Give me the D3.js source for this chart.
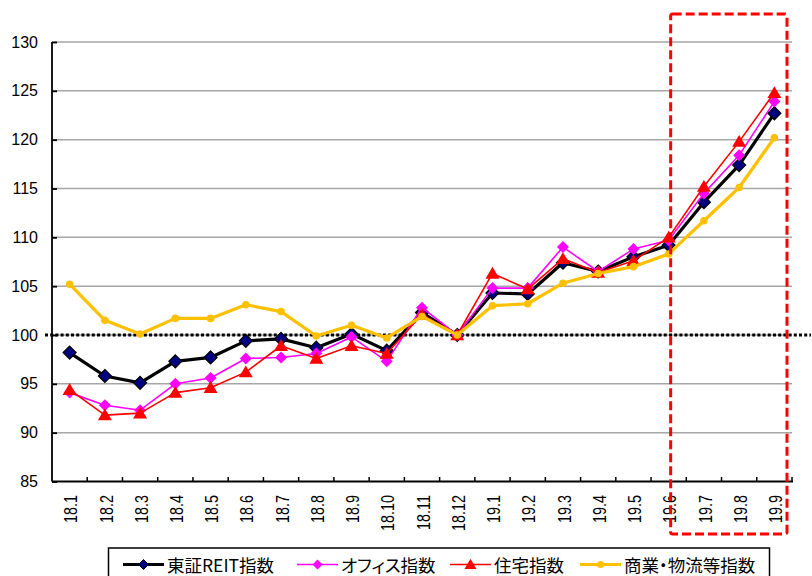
<!DOCTYPE html>
<html>
<head>
<meta charset="utf-8">
<script src="https://cdn.jsdelivr.net/npm/d3@7/dist/d3.min.js"></script>
<style>
  html, body { margin: 0; padding: 0; background: #fff; }
  svg { display: block; }
  .num { font-family: "Liberation Sans", Arial, sans-serif; fill: #000; }
  .leg { font-family: "Noto Sans CJK JP", sans-serif; font-feature-settings: "palt"; fill: #000; }
</style>
</head>
<body>
<svg id="chart" width="812" height="576"></svg>
<script>
// Month labels (year.month)
const months = ["18.1","18.2","18.3","18.4","18.5","18.6","18.7","18.8","18.9","18.10","18.11","18.12",
                "19.1","19.2","19.3","19.4","19.5","19.6","19.7","19.8","19.9"];

// Index values, 2018/12 = 100
const reitIndex   = [98.2, 95.8, 95.1, 97.3, 97.7, 99.4, 99.6, 98.7, 100.1, 98.4, 102.3, 100.0,
                     104.3, 104.2, 107.4, 106.5, 108.0, 109.2, 113.6, 117.4, 122.7];
const officeIndex = [94.1, 92.8, 92.3, 95.0, 95.6, 97.6, 97.7, 98.1, 99.8, 97.3, 102.8, 100.0,
                     104.8, 104.8, 109.0, 106.5, 108.8, 109.7, 114.5, 118.4, 123.9];
const housingIndex = [94.4, 91.8, 92.0, 94.1, 94.6, 96.2, 98.9, 97.6, 98.9, 98.1, 102.1, 100.0,
                     106.3, 104.7, 107.8, 106.4, 107.6, 110.0, 115.2, 119.8, 124.8];
const retailIndex = [105.2, 101.5, 100.1, 101.7, 101.7, 103.1, 102.4, 99.9, 101.0, 99.7, 101.9, 100.0,
                     103.0, 103.2, 105.3, 106.3, 107.0, 108.3, 111.7, 115.1, 120.2];

const yTicks = [85, 90, 95, 100, 105, 110, 115, 120, 125, 130];
const baseLine = 100;
const highlightFrom = "19.6";

const seriesNames = ["東証REIT指数", "オフィス指数", "住宅指数", "商業・物流等指数"];

const series = [
  { name: seriesNames[0], values: reitIndex,    line: "#000000", width: 3.2, marker: "diamond",  r: 6.5, fill: "#000080", stroke: "#000000" },
  { name: seriesNames[1], values: officeIndex,  line: "#ff00ff", width: 1.6, marker: "diamond",  r: 6,   fill: "#ff00ff", stroke: "none" },
  { name: seriesNames[2], values: housingIndex, line: "#ff0000", width: 1.6, marker: "triangle", r: 7,   fill: "#ff0000", stroke: "none" },
  { name: seriesNames[3], values: retailIndex,  line: "#ffc000", width: 3.2, marker: "circle",   r: 3.8, fill: "#ffc000", stroke: "none" }
];

const svg = d3.select("#chart");

const plot = { left: 52, right: 792, top: 42, bottom: 481.5 };

const x = d3.scaleBand().domain(months).range([plot.left, plot.right]).paddingInner(0).paddingOuter(0);
const cx = d => x(d) + x.bandwidth() / 2;
const y = d3.scaleLinear().domain([85, 130]).range([plot.bottom, plot.top]);

// Horizontal gridlines
svg.append("g").selectAll("line")
  .data(yTicks.filter(t => t > 85))
  .join("line")
  .attr("x1", plot.left).attr("x2", plot.right)
  .attr("y1", d => y(d)).attr("y2", d => y(d))
  .attr("stroke", "#a6a6a6").attr("stroke-width", 1.5);

// Y axis (ticks pointing inward)
const yAxis = svg.append("g").attr("transform", `translate(${plot.left},0)`)
  .call(d3.axisRight(y).tickValues(yTicks).tickSize(5).tickFormat(""));
yAxis.select(".domain").attr("stroke", "#000").attr("stroke-width", 1.8).attr("d", `M0,${plot.top}V${plot.bottom}`);
yAxis.selectAll(".tick line").attr("stroke", "#000").attr("stroke-width", 1.8);

svg.append("g").selectAll("text")
  .data(yTicks)
  .join("text")
  .attr("class", "num")
  .attr("x", 38).attr("y", d => y(d))
  .attr("text-anchor", "end").attr("dominant-baseline", "central")
  .attr("font-size", 16)
  .text(d => d);

// X axis with tick marks at category boundaries
const boundaries = months.map(m => x(m)).concat([plot.right]);
svg.append("line")
  .attr("x1", plot.left).attr("x2", plot.right + 1)
  .attr("y1", plot.bottom).attr("y2", plot.bottom)
  .attr("stroke", "#000").attr("stroke-width", 1.8);
svg.append("g").selectAll("line")
  .data(boundaries.slice(1))
  .join("line")
  .attr("x1", d => d).attr("x2", d => d)
  .attr("y1", plot.bottom).attr("y2", plot.bottom - 4.5)
  .attr("stroke", "#000").attr("stroke-width", 1.5);

svg.append("g").selectAll("text")
  .data(months)
  .join("text")
  .attr("class", "num")
  .attr("font-size", 18)
  .attr("text-anchor", "end")
  .attr("dominant-baseline", "central")
  .attr("transform", d => `translate(${cx(d) + 1},${plot.bottom + 13.5}) rotate(-90) scale(0.8,1.02)`)
  .text(d => d);

// Reference line at 100
svg.append("line")
  .attr("x1", plot.left - 7).attr("x2", 811)
  .attr("y1", y(baseLine)).attr("y2", y(baseLine))
  .attr("stroke", "#000").attr("stroke-width", 3)
  .attr("stroke-dasharray", "3,2.2");

// Marker shapes
function markerPath(type, r) {
  if (type === "diamond") return `M0,${-r}L${r},0L0,${r}L${-r},0Z`;
  if (type === "triangle") return `M0,${-r * 0.95}L${r},${r * 0.75}L${-r},${r * 0.75}Z`;
  return d3.symbol(d3.symbolCircle, Math.PI * r * r)();
}

const line = d3.line().x((d, i) => cx(months[i])).y(d => y(d));

series.forEach(s => {
  const g = svg.append("g");
  g.append("path")
    .attr("d", line(s.values))
    .attr("fill", "none")
    .attr("stroke", s.line)
    .attr("stroke-width", s.width)
    .attr("stroke-linejoin", "round");
  g.selectAll("path.mk")
    .data(s.values)
    .join("path")
    .attr("class", "mk")
    .attr("transform", (d, i) => `translate(${cx(months[i])},${y(d)})`)
    .attr("d", markerPath(s.marker, s.r))
    .attr("fill", s.fill)
    .attr("stroke", s.stroke)
    .attr("stroke-width", 1.2);
});

// Highlight box around the latest months
const boxLeft = cx(highlightFrom) + 2;
const boxRight = plot.right - 5;
svg.append("rect")
  .attr("x", boxLeft).attr("y", plot.top - 28)
  .attr("width", boxRight - boxLeft)
  .attr("height", (plot.bottom + 52.5) - (plot.top - 28))
  .attr("rx", 2)
  .attr("fill", "none")
  .attr("stroke", "#ff0000").attr("stroke-width", 3)
  .attr("stroke-dasharray", "9,4");

// Legend
const legend = svg.append("g");
legend.append("rect")
  .attr("x", 108.5).attr("y", 548)
  .attr("width", 661).attr("height", 40)
  .attr("fill", "#fff").attr("stroke", "#000").attr("stroke-width", 1.5);

const legendX = [123, 297, 450, 580];
const legendSize = [{ r: 5 }, { r: 5 }, { r: 6 }, { r: 3.5 }];
series.forEach((s, i) => {
  const gx = legendX[i], gy = 564.5;
  legend.append("line")
    .attr("x1", gx).attr("x2", gx + 41)
    .attr("y1", gy).attr("y2", gy)
    .attr("stroke", s.line).attr("stroke-width", s.width);
  legend.append("path")
    .attr("transform", `translate(${gx + 20.5},${gy})`)
    .attr("d", markerPath(s.marker, legendSize[i].r))
    .attr("fill", s.fill).attr("stroke", s.stroke).attr("stroke-width", 1);
  legend.append("text")
    .attr("class", "leg")
    .attr("x", gx + 44).attr("y", gy)
    .attr("dominant-baseline", "central")
    .attr("font-size", 17.5)
    .text(s.name);
});
</script>
</body>
</html>
